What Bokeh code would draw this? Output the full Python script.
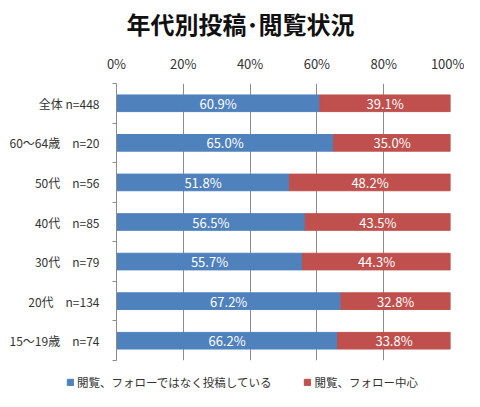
from bokeh.plotting import figure
from bokeh.layouts import column
from bokeh.core.properties import value
from bokeh.models import FixedTicker, Legend, LegendItem, ColumnDataSource, LabelSet, Label, Range1d
from bokeh.embed import file_html
from bokeh.resources import INLINE

categories = ["全体 n=448", "60～64歳　n=20", "50代　n=56", "40代　n=85", "30代　n=79", "20代　n=134", "15～19歳　n=74"]
posting = [60.9, 65.0, 51.8, 56.5, 55.7, 67.2, 66.2]
viewing = [39.1, 35.0, 48.2, 43.5, 44.3, 32.8, 33.8]
series_names = ["閲覧、フォローではなく投稿している", "閲覧、フォロー中心"]
x_ticks = [0, 20, 40, 60, 80, 100]
title_text = "年代別投稿･閲覧状況"

FONT = "Noto Sans CJK JP"
BLUE = "#4F81BD"
RED = "#C0504D"
GRID = "#8C8C8C"
W = 464
H_TITLE = 46
H_MAIN = 323
H_LEG = 22

n = len(categories)
ypos = [n - 0.5 - i for i in range(n)]

src = ColumnDataSource(dict(
    y=ypos,
    pend=[a for a in posting],
    vend=[a + b for a, b in zip(posting, viewing)],
    pmid=[a / 2 for a in posting],
    vmid=[a + b / 2 for a, b in zip(posting, viewing)],
    plab=[f"{a:.1f}%" for a in posting],
    vlab=[f"{b:.1f}%" for b in viewing],
))

# title strip
tf = figure(width=W, height=H_TITLE, output_backend="svg", toolbar_location=None,
            x_range=Range1d(0, 1), y_range=Range1d(0, 1), frame_align=False,
            min_border_left=0, min_border_right=0, min_border_top=0, min_border_bottom=0)
tf.axis.visible = False
tf.grid.visible = False
tf.outline_line_color = None
tf.add_layout(Label(x=0.517, y=0.5, text=title_text, text_align="center", text_baseline="middle",
                    text_font=FONT, text_font_size="24px", text_font_style="bold",
                    text_color="#111111"))

# main chart
p = figure(width=W, height=H_MAIN, output_backend="svg", toolbar_location=None,
           x_range=Range1d(0, 100), y_range=Range1d(0, n), frame_align=False,
           x_axis_location="above", min_border_left=116, min_border_right=14,
           min_border_top=37, min_border_bottom=9)
p.outline_line_color = None

p.hbar(y="y", left=0, right="pend", height=0.42, color=BLUE, source=src)
p.hbar(y="y", left="pend", right="vend", height=0.42, color=RED, source=src)

for xcol, lcol in (("pmid", "plab"), ("vmid", "vlab")):
    p.add_layout(LabelSet(x=xcol, y="y", text=lcol, source=src, text_color="white",
                          text_align="center", text_baseline="middle",
                          text_font=value(FONT), text_font_size=value("13px")))

xa = p.xaxis[0]
xa.ticker = FixedTicker(ticks=x_ticks)
xa.major_label_overrides = {t: f"{t}%" for t in x_ticks}
xa.axis_line_color = None
xa.major_tick_line_color = None
xa.minor_tick_line_color = None
xa.major_tick_out = 0
xa.major_tick_in = 0
xa.major_label_text_font = FONT
xa.major_label_text_font_size = "13px"
xa.major_label_text_color = "#333333"
xa.major_label_standoff = 11

ya = p.yaxis[0]
ya.ticker = FixedTicker(ticks=ypos, minor_ticks=list(range(n + 1)))
ya.major_label_overrides = {y: c for y, c in zip(ypos, categories)}
ya.axis_line_color = GRID
ya.major_tick_line_color = None
ya.major_tick_out = 0
ya.major_tick_in = 0
ya.minor_tick_line_color = GRID
ya.minor_tick_out = 4
ya.minor_tick_in = 0
ya.major_label_text_font = FONT
ya.major_label_text_font_size = "12px"
ya.major_label_text_color = "#333333"
ya.major_label_standoff = 13

p.xgrid.ticker = FixedTicker(ticks=x_ticks)
p.xgrid.grid_line_color = GRID
p.ygrid.grid_line_color = None

# legend strip
lf = figure(width=W, height=H_LEG, output_backend="svg", toolbar_location=None,
            x_range=Range1d(0, 1), y_range=Range1d(0, 1), frame_align=False,
            min_border_left=0, min_border_right=0, min_border_top=0, min_border_bottom=0)
lf.axis.visible = False
lf.grid.visible = False
lf.outline_line_color = None
keysrc = ColumnDataSource(dict(y=[-10], l=[0], r=[0]))
g1 = lf.hbar(y="y", left="l", right="r", height=1, color=BLUE, source=keysrc)
g2 = lf.hbar(y="y", left="l", right="r", height=1, color=RED, source=keysrc)
legend = Legend(items=[LegendItem(label=series_names[0], renderers=[g1]),
                       LegendItem(label=series_names[1], renderers=[g2])],
                orientation="horizontal", location=(66, 1),
                glyph_width=8, glyph_height=8, label_standoff=3, spacing=32,
                label_text_font=FONT, label_text_font_size="11.5px", label_text_color="#333333",
                border_line_color=None, background_fill_alpha=0, padding=0, margin=0)
lf.add_layout(legend)

layout = column(tf, p, lf, spacing=0)
open("out.html", "w").write(file_html(layout, INLINE))
